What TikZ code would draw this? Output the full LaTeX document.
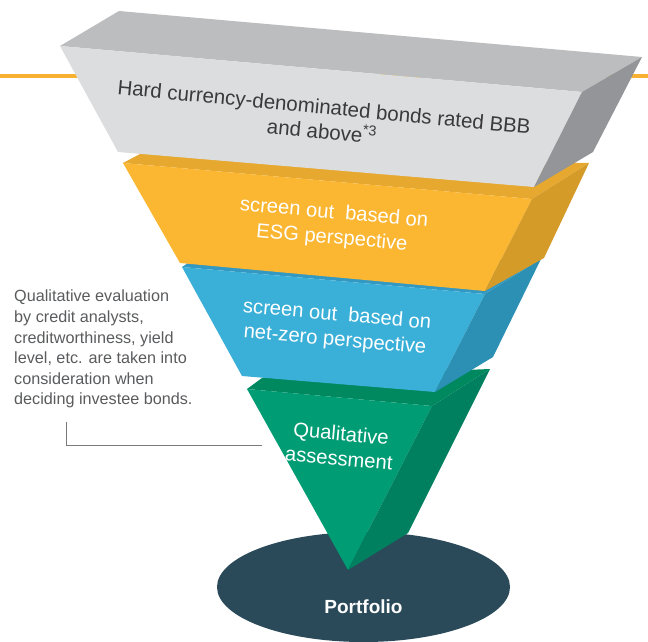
\documentclass[tikz,border=0pt]{standalone}
\usepackage{fontspec}
\setmainfont{Liberation Sans}
\definecolor{grayTop}{HTML}{BCBDBF}
\definecolor{grayFront}{HTML}{DCDDDF}
\definecolor{graySide}{HTML}{949598}
\definecolor{yelTop}{HTML}{E6A82E}
\definecolor{yelFront}{HTML}{FBB632}
\definecolor{yelSide}{HTML}{D49B29}
\definecolor{bluTop}{HTML}{3399C2}
\definecolor{bluFront}{HTML}{3AAFD7}
\definecolor{bluSide}{HTML}{2B90B3}
\definecolor{grnTop}{HTML}{00895F}
\definecolor{grnFront}{HTML}{009C74}
\definecolor{grnSide}{HTML}{00805E}
\definecolor{ellCol}{HTML}{2A4959}
\definecolor{orangeLine}{HTML}{F8B133}
\definecolor{calloutText}{HTML}{5A5B5D}
\definecolor{calloutLine}{HTML}{7A7B7D}
\definecolor{hardText}{HTML}{3A3A3C}
\begin{document}
\begin{tikzpicture}[x=1pt,y=-1pt,
  facetext/.style={text=white,font=\fontsize{20.2}{25}\selectfont,align=center,rotate=-5,inner sep=0pt},
  hardtext/.style={text=hardText,font=\fontsize{20.5}{24.5}\selectfont,align=center,rotate=-5.5,inner sep=0pt},
  callout/.style={text=calloutText,font=\fontsize{16.2}{20.6}\selectfont,align=left,inner sep=0pt,anchor=north west},
  leader/.style={draw=calloutLine,line width=0.9pt}]
\useasboundingbox (0,0) rectangle (648,641);
% orange background line
\coordinate (olL) at (0,76);
\coordinate (olR) at (648,76);
\draw[orangeLine,line width=3.5pt] (olL) -- (olR);
% portfolio ellipse
\fill[ellCol] (363.5,587) ellipse [x radius=146.5pt, y radius=55pt];
% green block
\fill[grnTop] (247,389) -- (262,378) -- (490,369) -- (432,406) -- cycle;
\fill[grnFront] (247,389) -- (432,406) -- (348,570) -- cycle;
\fill[grnSide] (432,406) -- (490,369) -- (408,533) -- (348,570) -- cycle;
% blue block
\fill[bluTop] (182,267) -- (188,263) -- (541,259) -- (485,294) -- cycle;
\fill[bluFront] (182,267) -- (485,294) -- (435,392) -- (242,376) -- cycle;
\fill[bluSide] (485,294) -- (541,259) -- (493,357) -- (435,392) -- cycle;
% yellow block
\fill[yelTop] (123,163) -- (140,154) -- (589,163) -- (532,199) -- cycle;
\fill[yelFront] (123,163) -- (532,199) -- (485,291) -- (180,263) -- cycle;
\fill[yelSide] (532,199) -- (589,163) -- (544,258) -- (485,291) -- cycle;
% gray block
\fill[grayTop] (60,46) -- (119,11) -- (642,57) -- (582,92) -- cycle;
\fill[grayFront] (60,46) -- (582,92) -- (534,187) -- (118,152) -- cycle;
\fill[graySide] (582,92) -- (642,57) -- (593,152) -- (534,187) -- cycle;
% texts
\node[hardtext] (hard) at (323,119) {Hard currency-denominated bonds rated BBB\\and above\textsuperscript{*3}};
\node[facetext] (esg) at (333,226) {screen out\ \ based on\\ESG perspective};
\node[facetext] (netzero) at (336,328) {screen out\ \ based on\\net-zero perspective};
\node[facetext] (qual) at (340,446) {Qualitative\\assessment};
\node[text=white,font=\fontsize{19}{22}\selectfont\bfseries,inner sep=0pt] (portfolio) at (363.5,607) {Portfolio};
% callout
\node[callout] (note) at (14,290) {Qualitative evaluation\\by credit analysts,\\creditworthiness, yield\\level, etc. are taken into\\consideration when\\deciding investee bonds.};
\coordinate (l1) at (66,422);
\coordinate (l2) at (66,445);
\coordinate (l3) at (262,445);
\draw[leader] (l1) -- (l2) -- (l3);
\end{tikzpicture}
\end{document}
